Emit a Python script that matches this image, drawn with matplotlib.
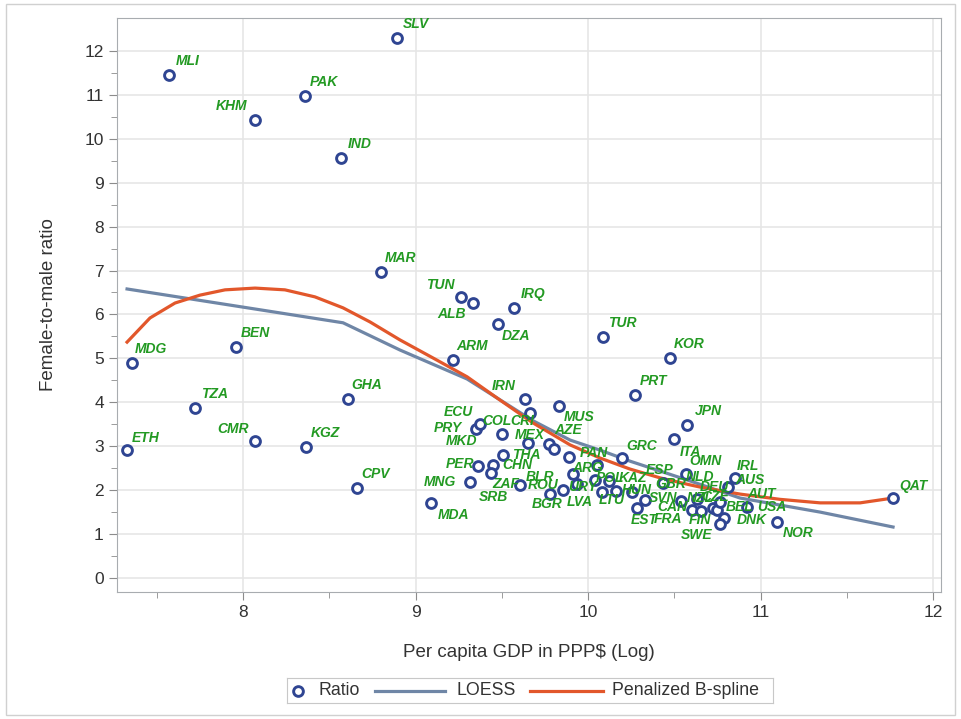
import matplotlib.pyplot as plt

plt.rcParams['font.family'] = ['Liberation Sans', 'DejaVu Sans']

# Country codes, log per-capita GDP and female-to-male ratio
countries = ['ETH', 'MDG', 'MLI', 'TZA', 'BEN', 'KHM', 'CMR', 'PAK', 'KGZ', 'IND',
             'GHA', 'CPV', 'MAR', 'SLV', 'MDA', 'ARM', 'TUN', 'MNG', 'ALB', 'PRY',
             'ECU', 'PER', 'CHN', 'SRB', 'DZA', 'MKD', 'THA', 'IRQ', 'ZAF', 'IRN',
             'COL', 'MEX', 'AZE', 'CRI', 'MUS', 'BGR', 'ROU', 'PAN', 'ARG', 'LVA',
             'URY', 'LTU', 'BLR', 'KAZ', 'POL', 'TUR', 'GRC', 'HUN', 'EST', 'PRT',
             'GBR', 'ESP', 'KOR', 'ITA', 'SVN', 'JPN', 'NLD', 'CAN', 'CZE', 'FRA',
             'FIN', 'NZL', 'DNK', 'SWE', 'BEL', 'DEU', 'AUS', 'USA', 'NOR', 'QAT']
gdp_log = [7.328, 7.357, 7.571, 7.722, 7.959, 8.070, 8.070, 8.359, 8.365, 8.568,
           8.609, 8.661, 8.800, 8.893, 9.090, 9.217, 9.264, 9.316, 9.333, 9.351,
           9.374, 9.362, 9.449, 9.438, 9.478, 9.501, 9.507, 9.571, 9.606, 9.635,
           9.664, 9.652, 9.774, 9.800, 9.832, 9.780, 9.855, 9.890, 9.913, 9.936,
           10.050, 10.040, 10.080, 10.120, 10.160, 10.087, 10.197, 10.255, 10.284, 10.272,
           10.330, 10.435, 10.475, 10.499, 10.540, 10.574, 10.568, 10.600, 10.630, 10.655,
           10.725, 10.750, 10.788, 10.765, 10.765, 10.810, 10.850, 10.920, 11.096, 11.768]
ratio = [2.91, 4.90, 11.45, 3.87, 5.26, 10.43, 3.12, 10.97, 2.98, 9.56,
         4.08, 2.05, 6.97, 12.30, 1.71, 4.96, 6.40, 2.19, 6.26, 3.39,
         3.51, 2.55, 2.57, 2.39, 5.78, 3.28, 2.80, 6.15, 2.12, 4.08,
         3.76, 3.07, 3.05, 2.94, 3.92, 1.91, 2.00, 2.76, 2.37, 2.14,
         2.57, 2.23, 1.96, 2.21, 1.98, 5.49, 2.73, 1.96, 1.59, 4.17,
         1.78, 2.16, 5.01, 3.16, 1.75, 3.48, 2.37, 1.55, 1.80, 1.53,
         1.59, 1.55, 1.37, 1.23, 1.73, 2.07, 2.27, 1.62, 1.27, 1.82]

# Fitted curves
loess_x = [7.328, 8.580, 8.910, 9.299, 9.681, 9.896, 10.070, 10.243, 10.591, 10.881,
           11.345, 11.768]
loess_y = [6.58, 5.81, 5.19, 4.53, 3.58, 3.14, 2.91, 2.66, 2.21, 1.82, 1.50, 1.16]
spline_x = [7.328, 7.461, 7.606, 7.751, 7.896, 8.070, 8.243, 8.417, 8.580, 8.736,
            8.910, 9.101, 9.299, 9.490, 9.681, 9.896, 10.070, 10.243, 10.417, 10.591,
            10.649, 10.881, 11.113, 11.345, 11.577, 11.768]
spline_y = [5.37, 5.92, 6.26, 6.44, 6.56, 6.60, 6.56, 6.40, 6.15, 5.83,
            5.42, 5.01, 4.58, 4.05, 3.53, 3.03, 2.73, 2.48, 2.28, 2.12,
            2.07, 1.91, 1.79, 1.71, 1.71, 1.82]

# label offsets in pixels (dx, dy up); default is upper right
default_off = (19, 14)
label_off = {
    'KHM': (-24, 14), 'TUN': (-21, 12), 'ALB': (-21, -11), 'DZA': (18, -12),
    'IRN': (-21, 13), 'ITA': (16, -13), 'MUS': (20, -11), 'ECU': (-22, 12),
    'PRY': (-28, 1), 'MKD': (-40, -7), 'COL': (-33, -8), 'PER': (-18, 2),
    'CHN': (24, 0), 'THA': (23, 0), 'SRB': (2, -24), 'ZAF': (-14, 1),
    'MNG': (-30, 0), 'MDA': (22, -12), 'BGR': (-3, -10), 'ROU': (-20, 5),
    'MEX': (2, 8), 'CRI': (-31, 28), 'PAN': (25, 4),
    'ARG': (15, 6), 'LVA': (3, -18), 'LTU': (17, -20), 'EST': (7, -12),
    'BLR': (-62, 15), 'URY': (-14, -22), 'KAZ': (24, 3), 'POL': (-6, 13),
    'HUN': (5, 2), 'GBR': (26, 16), 'ESP': (-3, 13), 'SVN': (-18, 3),
    'NLD': (14, -3), 'CAN': (-19, 3), 'CZE': (18, 2), 'FRA': (-33, -8),
    'FIN': (-13, -12), 'NZL': (-17, 12), 'DNK': (28, -2), 'SWE': (-23, -11),
    'BEL': (20, -5), 'DEU': (-13, 0), 'AUS': (15, -2), 'USA': (25, 0),
    'NOR': (21, -11), 'QAT': (20, 12), 'JPN': (21, 14), 'GRC': (20, 12),
    'ETH': (19, 12), 'CMR': (-22, 12), 'TUR': (19, 14),
}
# codes printed beside neighbouring markers: (x, y, dx, dy)
extra_labels = {'OMN': (10.568, 2.37, 19, 13), 'IRL': (10.85, 2.27, 13, 12),
                'AUT': (10.81, 2.07, 34, -7)}

marker_col = '#2f4592'
loess_col = '#6f86a6'
spline_col = '#e2572b'
label_col = '#239a23'
text_col = '#333333'

fig = plt.figure(figsize=(9.61, 7.19), dpi=100)
ax = fig.add_axes([0.1218, 0.1766, 0.8574, 0.7984])

ax.plot(loess_x, loess_y, color=loess_col, lw=2.3, zorder=3)
ax.plot(spline_x, spline_y, color=spline_col, lw=2.3, zorder=3,
        solid_joinstyle='round')
ax.scatter(gdp_log, ratio, s=50, facecolors='white', edgecolors=marker_col,
           linewidths=2.1, zorder=4)

lab_kw = dict(textcoords='offset pixels', ha='center', va='center', fontsize=10,
              style='italic', fontweight='bold', color=label_col, zorder=5)
for c, x, y in zip(countries, gdp_log, ratio):
    ax.annotate(c, (x, y), xytext=label_off.get(c, default_off), **lab_kw)
for c, (x, y, dx, dy) in extra_labels.items():
    ax.annotate(c, (x, y), xytext=(dx, dy), **lab_kw)

ax.set_xlim(7.27, 12.046)
ax.set_ylim(-0.32, 12.75)
ax.set_xticks([8, 9, 10, 11, 12])
ax.set_xticks([7.5, 8.5, 9.5, 10.5, 11.5], minor=True)
ax.set_yticks(range(0, 13))
ax.set_yticks([i + 0.5 for i in range(0, 12)], minor=True)
ax.grid(True, which='major', color='#e6e6e6', lw=1.2, zorder=0)
ax.set_axisbelow(True)
for sp in ax.spines.values():
    sp.set_color('#a8acb0')
ax.tick_params(which='both', colors='#8c8c8c', labelcolor=text_col, labelsize=12.5)
ax.tick_params(which='major', length=6)
ax.tick_params(which='minor', length=4)

ax.set_xlabel('Per capita GDP in PPP$ (Log)', fontsize=13.5, color=text_col, labelpad=17)
ax.set_ylabel('Female-to-male ratio', fontsize=13.5, color=text_col, labelpad=20)

# legend box below the axis label, laid out in pixel units
lg = fig.add_axes([287 / 961, 1 - 703 / 719, 486 / 961, 25 / 719])
lg.set_xlim(0, 486)
lg.set_ylim(0, 25)
lg.set_xticks([])
lg.set_yticks([])
for sp in lg.spines.values():
    sp.set_color('#c8c8c8')
lg.plot([11], [12.5], marker='o', ms=7, mfc='white', mec=marker_col, mew=2.1)
lg.plot([88, 158], [12.5, 12.5], color=loess_col, lw=2.3)
lg.plot([243, 316], [12.5, 12.5], color=spline_col, lw=2.3)
for xx, txt in [(32, 'Ratio'), (169, 'LOESS'), (325, 'Penalized B-spline')]:
    lg.text(xx, 12.5, txt, fontsize=12.8, color=text_col, va='center', ha='left')

# outer border of the graph area
fig.patches.append(plt.Rectangle((0.006, 0.006), 0.988, 0.988, transform=fig.transFigure,
                                 fill=False, edgecolor='#d0d0d0', lw=1))

fig.savefig('out.png', dpi=100)
